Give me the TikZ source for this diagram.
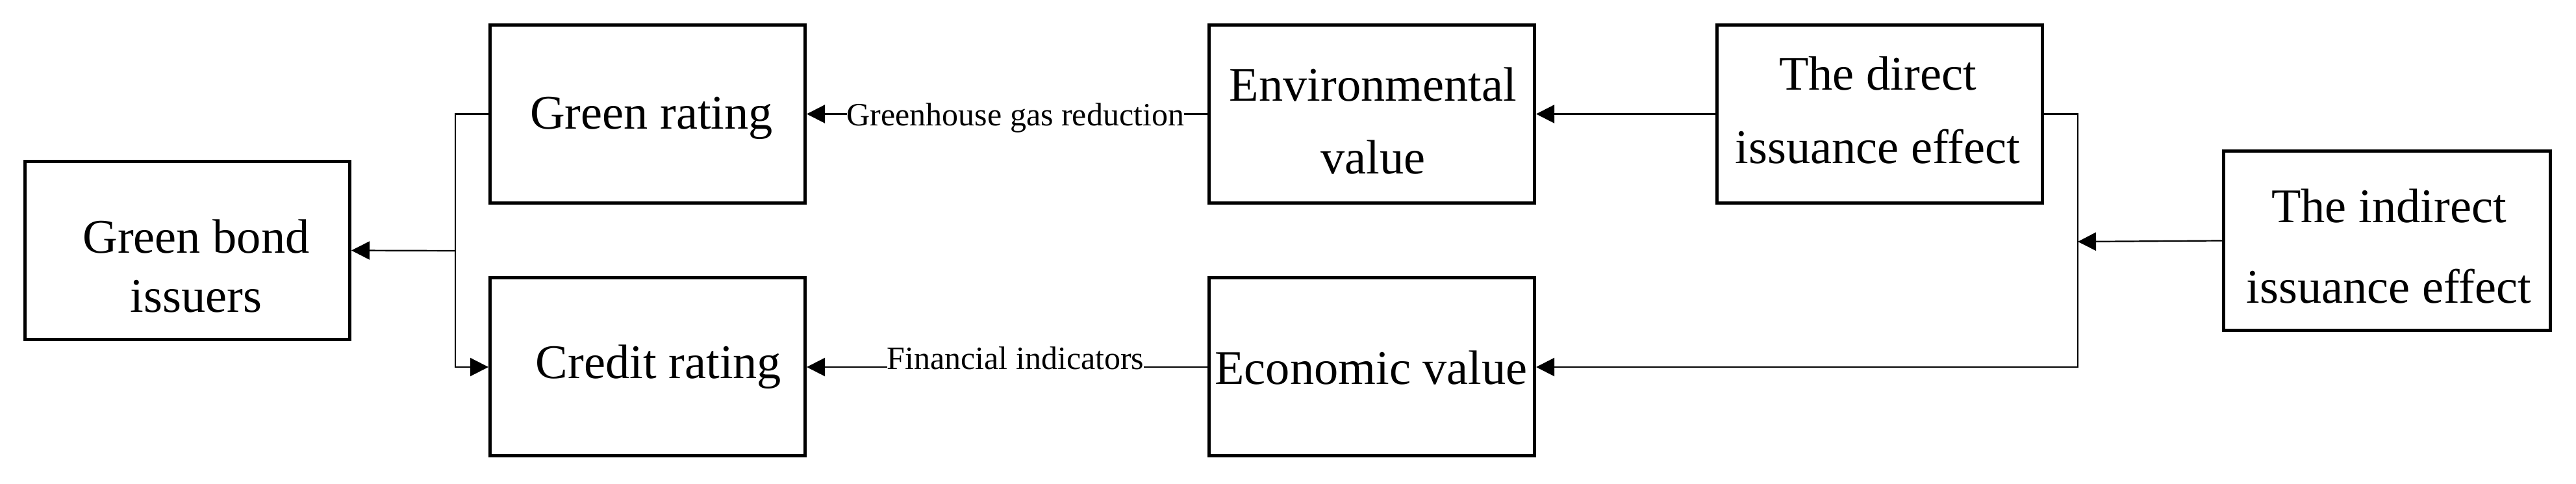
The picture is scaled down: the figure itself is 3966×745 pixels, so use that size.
\documentclass[tikz,border=0pt]{standalone}
\usepackage{fontspec}
\setmainfont{Liberation Serif}
\usetikzlibrary{arrows.meta}
\begin{document}
\begin{tikzpicture}[x=0.25pt,y=-0.25pt,
  box/.style={draw, line width=1.25pt, minimum width=125pt, minimum height=68.5pt, inner sep=0pt},
  boxtxt/.style={align=center, inner sep=0pt},
  conn/.style={line width=0.55pt, -{Triangle[length=7pt,width=7pt]}},
  lab/.style={fill=white, inner sep=0pt, font=\fontsize{12.5pt}{15pt}\selectfont}]
\useasboundingbox (0,0) rectangle (3966,745);
% boxes
\node[box, minimum width=125pt] (gbi) at (288.5,385.5) {};
\node[box, minimum width=121.25pt] (gr) at (997,175.5) {};
\node[box, minimum width=121.25pt] (cr) at (997,565) {};
\node[box, minimum width=125.25pt] (envv) at (2112,175.5) {};
\node[box, minimum width=125.25pt] (ecov) at (2112,565) {};
\node[box, minimum width=125.25pt] (direct) at (2894,175.5) {};
\node[box, minimum width=125.75pt, minimum height=69pt] (indirect) at (3675,370.5) {};
% box texts
\node[boxtxt, font=\fontsize{18.6pt}{22.75pt}\selectfont] (gbi-t) at (302,409.5) {Green bond\\issuers};
\node[boxtxt, font=\fontsize{18.6pt}{22pt}\selectfont] (gr-t) at (1003,182) {Green rating};
\node[boxtxt, font=\fontsize{18.6pt}{22pt}\selectfont] (cr-t) at (1014,564.7) {Credit rating};
\node[boxtxt, font=\fontsize{18.6pt}{28pt}\selectfont] (envv-t) at (2114,186.5) {Environmental\\value};
\node[boxtxt, font=\fontsize{18.6pt}{22pt}\selectfont] (ecov-t) at (2111,566) {Economic value};
\node[boxtxt, font=\fontsize{18.6pt}{28.25pt}\selectfont] (direct-t) at (2891,170) {The direct\\issuance effect};
\node[boxtxt, font=\fontsize{18.6pt}{31.1pt}\selectfont] (indirect-t) at (3678,378.8) {The indirect\\issuance effect};
% junctions
\coordinate (lsplit) at (701,386);
\coordinate (rsplit) at (3199,372);
% connectors
\draw[conn] (direct.west) -- (envv.east);
\draw[conn] (envv.west) -- node[lab, pos=0.479, yshift=-1.4pt] (ghg) {Greenhouse gas reduction} (gr.east);
\draw[conn] (ecov.west) -- node[lab, pos=0.479, yshift=3.5pt] (fin) {Financial indicators} (cr.east);
\draw[conn] (gr.west) -| (lsplit) |- (cr.west);
\draw[conn] (lsplit) -- (gbi.east);
\draw[conn] (direct.east) -| (rsplit) |- (ecov.east);
\draw[conn] (indirect.west) -- (rsplit);
\end{tikzpicture}
\end{document}
